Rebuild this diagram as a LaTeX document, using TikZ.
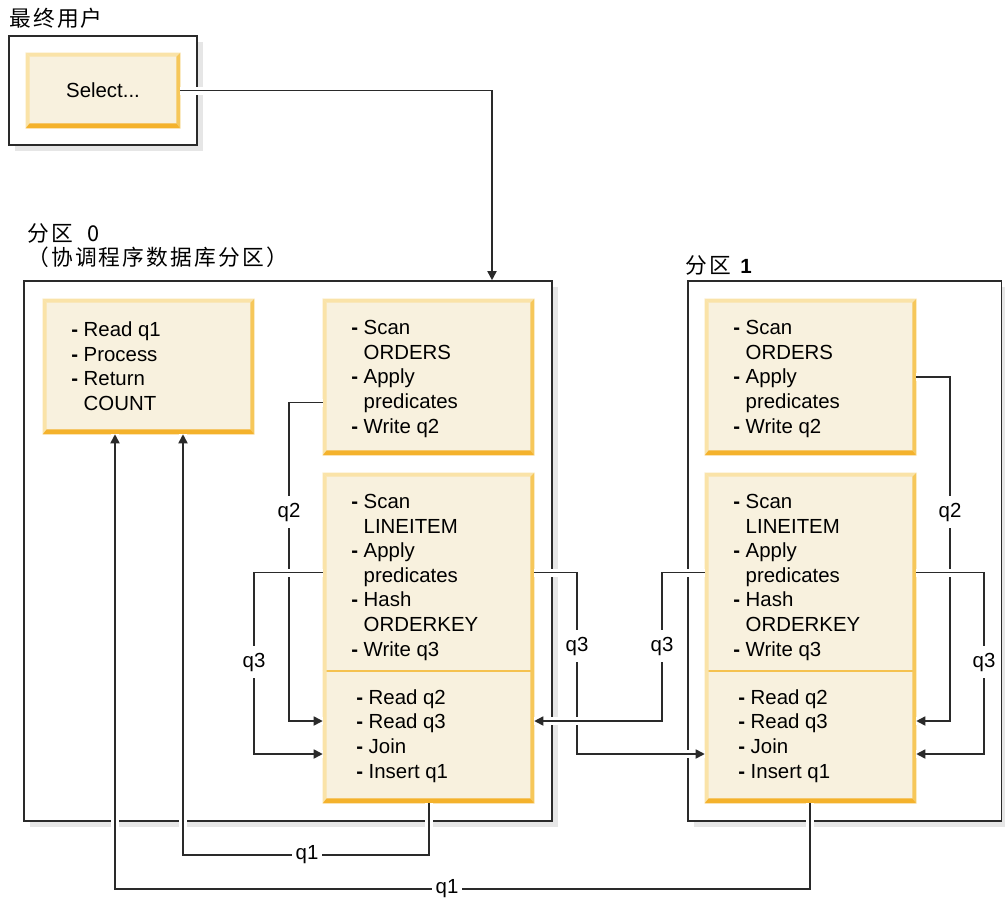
\documentclass[tikz,border=0pt]{standalone}
\usepackage{fontspec}
\setmainfont{Liberation Sans}
\newfontfamily\cjk{Noto Sans CJK SC}[LetterSpace=10]
\usetikzlibrary{arrows.meta,calc,shadows}
\definecolor{cream}{HTML}{F8F1DE}
\definecolor{bevlight}{HTML}{FAE3A8}
\definecolor{bevright}{HTML}{F6C75A}
\definecolor{bevbottom}{HTML}{F4B22C}
\definecolor{divc}{HTML}{F5C250}
\definecolor{linec}{HTML}{2A2A2A}
\definecolor{shadowc}{HTML}{E6E6E6}
\newcommand\bodyfont{\fontsize{15.3}{18.4}\selectfont}
\newcommand\titlefont{\cjk\fontsize{16.3}{18}\selectfont}
\newcommand\dd{\textbf{-} }
\newcommand\ind{\phantom{\textbf{-} }}
\newcommand\ybevel[1]{%
  \fill[bevlight] (#1.north west) -- (#1.north east) -- ($(#1.north east)+(-4,4)$) -- ($(#1.north west)+(4,4)$) -- cycle;
  \fill[bevlight] (#1.north west) -- ($(#1.north west)+(4,4)$) -- ($(#1.south west)+(4,-5)$) -- (#1.south west) -- cycle;
  \fill[bevright] (#1.north east) -- (#1.south east) -- ($(#1.south east)+(-4,-5)$) -- ($(#1.north east)+(-4,4)$) -- cycle;
  \fill[bevbottom] (#1.south west) -- (#1.south east) -- ($(#1.south east)+(-4,-5)$) -- ($(#1.south west)+(4,-5)$) -- cycle;
}
\newcommand\hdraw[2]{\path[halo] #2; \path[#1] #2;}
\tikzset{
  frame/.style 2 args={draw=linec, line width=1.2pt, fill=white, inner sep=0,
    minimum width=#1*0.75pt, minimum height=#2*0.75pt,
    drop shadow={shadow xshift=4.5pt, shadow yshift=-4.5pt, fill=shadowc, opacity=1}},
  ybox/.style 2 args={rectangle, fill=cream, draw=none, inner sep=0,
    minimum width=#1*0.75pt, minimum height=#2*0.75pt, font=\bodyfont},
  txt/.style={align=left, inner sep=0, anchor=base west, font=\bodyfont},
  title/.style={align=left, inner sep=0, anchor=base west, font=\titlefont},
  conn/.style={draw=linec, line width=1.2pt, -{Triangle[length=6.8pt,width=6.8pt]}},
  halo/.style={draw=white, line width=6pt},
  lbl/.style={fill=white, inner xsep=2.5pt, inner ysep=5pt, font=\bodyfont},
  divider/.style={draw=divc, line width=1.2pt},
}
\begin{document}
\begin{tikzpicture}[x=0.75pt,y=-0.75pt]
\useasboundingbox (0,0) rectangle (1005,899);

% frames
\node[frame={188}{109}] (user) at (103,90.5) {};
\node[frame={528}{540}] (p0) at (288,551) {};
\node[frame={313.5}{540}] (p1) at (844.75,551) {};

% titles (base = last line)
\node[title] (tuser) at (9,27) {最终用户};
\node[title] (tp0) at (27,265) {分区\hspace{11pt}0\\（协调程序数据库分区）};
\node[title] (tp1) at (685,273) {分区\hspace{7pt}{\rmfamily\bfseries\fontsize{15.4}{18}\selectfont 1}};

% yellow boxes
\node[ybox={154}{75}] (sel) at (103,90.5) {Select...};
\ybevel{sel}
\node[ybox={211}{135}] (rq) at (148.5,366.5) {};
\ybevel{rq}
\node[ybox={211}{156}] (o0) at (428.5,377) {};
\ybevel{o0}
\node[ybox={211}{330}] (l0) at (428.5,638) {};
\node[ybox={211}{156}] (o1) at (810.5,377) {};
\ybevel{o1}
\node[ybox={211}{330}] (l1) at (810.5,638) {};
\coordinate (dv) at (0,671);
\path[divider] (l0.west |- dv) -- (l0.east |- dv);
\path[divider] (l1.west |- dv) -- (l1.east |- dv);
\ybevel{l0}
\ybevel{l1}

% box texts (anchor at baseline of last line)
\node[txt] (trq) at (71,410.5) {\dd Read q1\\\dd Process\\\dd Return\\\ind COUNT};
\node[txt] (to0) at (351,433) {\dd Scan\\\ind ORDERS\\\dd Apply\\\ind predicates\\\dd Write q2};
\node[txt] (tl0u) at (351,656) {\dd Scan\\\ind LINEITEM\\\dd Apply\\\ind predicates\\\dd Hash\\\ind ORDERKEY\\\dd Write q3};
\node[txt] (tl0l) at (356,778) {\dd Read q2\\\dd Read q3\\\dd Join\\\dd Insert q1};
\node[txt] (to1) at (733,433) {\dd Scan\\\ind ORDERS\\\dd Apply\\\ind predicates\\\dd Write q2};
\node[txt] (tl1u) at (733,656) {\dd Scan\\\ind LINEITEM\\\dd Apply\\\ind predicates\\\dd Hash\\\ind ORDERKEY\\\dd Write q3};
\node[txt] (tl1l) at (738,778) {\dd Read q2\\\dd Read q3\\\dd Join\\\dd Insert q1};

% bend coordinates
\coordinate (a1) at (492,0);
\coordinate (b1) at (289,402.5);
\coordinate (b2) at (289,721);
\coordinate (c1) at (254,572.5);
\coordinate (c2) at (254,754);
\coordinate (d1) at (577,572.5);
\coordinate (d2) at (577,754);
\coordinate (e1) at (662,572.5);
\coordinate (e2) at (662,721);
\coordinate (f1) at (950,377);
\coordinate (f2) at (950,721);
\coordinate (g1) at (984,572.5);
\coordinate (g2) at (984,754);
\coordinate (h1) at (429,855);
\coordinate (h2) at (183,855);
\coordinate (i1) at (810,889);
\coordinate (i2) at (115,889);

% connectors
\hdraw{conn}{(o0.west |- b1) -| (b2) -- (l0.west |- b2)}
\hdraw{conn}{(l0.west |- c1) -| (c2) -- (l0.west |- c2)}
\hdraw{conn}{(o1.east |- f1) -| (f2) -- (l1.east |- f2)}
\hdraw{conn}{(l1.east |- g1) -| (g2) -- (l1.east |- g2)}
\hdraw{conn}{(l0.east |- d1) -| (d2) -- (l1.west |- d2)}
\hdraw{conn}{(l1.west |- e1) -| (e2) -- (l0.east |- e2)}
\hdraw{conn}{(sel.east) -| (p0.north -| a1)}
\hdraw{conn}{(l0.south -| h1) |- (h2) -- (rq.south -| h2)}
\hdraw{conn}{(l1.south -| i1) |- (i2) -- (rq.south -| i2)}

% labels
\node[lbl] (lq2a) at (289,512) {q2};
\node[lbl] (lq3a) at (254,662) {q3};
\node[lbl] (lq3b) at (577,646) {q3};
\node[lbl] (lq3c) at (662,646) {q3};
\node[lbl] (lq2b) at (950,512) {q2};
\node[lbl] (lq3d) at (984,662) {q3};
\node[lbl] (lq1a) at (307,855) {q1};
\node[lbl] (lq1b) at (447,889) {q1};
\end{tikzpicture}
\end{document}
